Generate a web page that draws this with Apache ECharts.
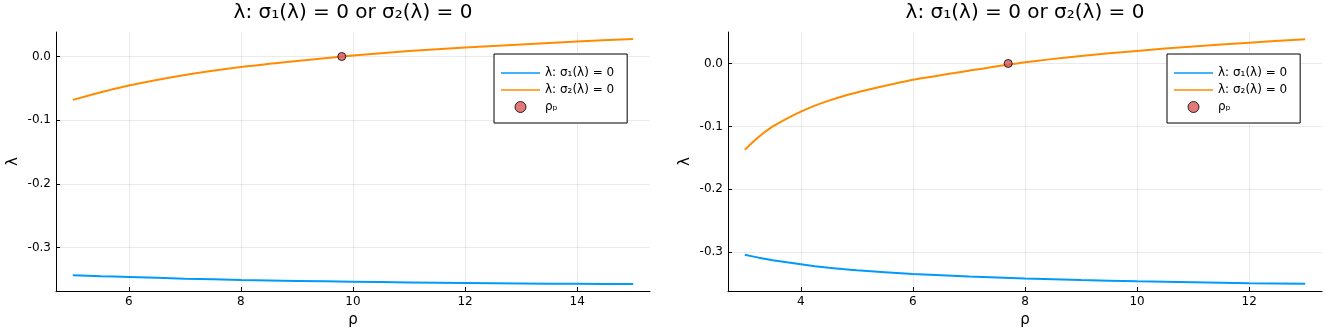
<!DOCTYPE html>
<html>
<head>
<meta charset="utf-8">
<script src="https://cdn.jsdelivr.net/npm/echarts@6/dist/echarts.min.js"></script>
<style>
  html, body { margin: 0; padding: 0; background: #fff; }
  #main { width: 1325px; height: 336px; }
</style>
</head>
<body>
<div id="main"></div>
<script>
// left panel
var rhoL    = [5, 5.5, 6, 7, 8, 9, 10, 11, 12, 13, 14, 15];
var sig1L   = [-0.3432, -0.3447, -0.346, -0.3486, -0.3506, -0.3522, -0.3535, -0.3546, -0.3555, -0.3562, -0.3567, -0.357];
var sig2L   = [-0.068, -0.0562, -0.0455, -0.029, -0.0165, -0.007, 0.0015, 0.0085, 0.014, 0.019, 0.0235, 0.0275];
var rhoPL   = [9.8, 0];
// right panel
var rhoR    = [3, 3.25, 3.5, 3.75, 4, 4.25, 4.5, 4.75, 5, 6, 7, 8, 9, 10, 11, 12, 13];
var sig1R   = [-0.304, -0.3085, -0.3125, -0.316, -0.319, -0.322, -0.3245, -0.3267, -0.3285, -0.3345, -0.3385, -0.3415, -0.344, -0.346, -0.3475, -0.349, -0.35];
var sig2R   = [-0.137, -0.1165, -0.1, -0.0875, -0.0765, -0.067, -0.059, -0.052, -0.046, -0.026, -0.0115, 0.002, 0.012, 0.02, 0.027, 0.033, 0.0385];
var rhoPR   = [7.7, 0];
// ticks and ranges
var xTicksL = [6, 8, 10, 12, 14];
var xTicksR = [4, 6, 8, 10, 12];
var yTicks  = [-0.3, -0.2, -0.1, 0.0];
var xRangeL = [4.7, 15.3];
var xRangeR = [2.7, 13.3];
var yRangeL = [-0.368, 0.0385];
var yRangeR = [-0.3615, 0.05];

var TITLE = 'λ: σ₁(λ) = 0 or σ₂(λ) = 0';
var N1 = 'λ: σ₁(λ) = 0', N2 = 'λ: σ₂(λ) = 0', NP = 'ρₚ';
var FONT = 'DejaVu Sans';

function pairs(xs, ys) {
    var out = [];
    for (var i = 0; i < xs.length; i++) out.push([xs[i], ys[i]]);
    return out;
}

function axis(idx, range, ticks, isX) {
    return {
        type: 'value',
        gridIndex: idx,
        min: range[0],
        max: range[1],
        name: isX ? 'ρ' : 'λ',
        nameLocation: 'middle',
        nameGap: isX ? 22 : 35,
        nameRotate: isX ? 0 : 90,
        nameTextStyle: { fontFamily: FONT, fontSize: 15, color: '#000' },
        axisLine: { show: true, onZero: false, lineStyle: { color: '#000', width: 1 } },
        axisTick: { show: true, inside: true, length: 4, customValues: ticks, lineStyle: { color: '#000' } },
        axisLabel: {
            customValues: ticks,
            margin: 5,
            fontFamily: FONT,
            fontSize: 12,
            color: '#000',
            formatter: function (v) { return isX ? String(v) : v.toFixed(1); }
        },
        splitLine: { show: true, lineStyle: { color: 'rgba(0,0,0,0.08)', width: 1 } }
    };
}

function legendOf(left) {
    return {
        orient: 'vertical',
        left: left,
        top: 54,
        padding: [13, 13, 10, 7],
        itemWidth: 39,
        itemHeight: 11,
        itemGap: 5,
        borderColor: '#000',
        borderWidth: 1,
        backgroundColor: '#fff',
        textStyle: { fontFamily: FONT, fontSize: 12, color: '#000' },
        data: [
            { name: N1, icon: 'path://M0,0H40V1.6H0Z', itemStyle: { borderWidth: 0 } },
            { name: N2, icon: 'path://M0,0H40V1.6H0Z', itemStyle: { borderWidth: 0 } },
            { name: NP, icon: 'circle', itemStyle: { borderWidth: 1, borderColor: '#000' } }
        ]
    };
}

function lineSeries(name, idx, xs, ys, color) {
    return {
        name: name, type: 'line', xAxisIndex: idx, yAxisIndex: idx,
        data: pairs(xs, ys), symbol: 'none', smooth: 0.25,
        lineStyle: { color: color, width: 2 }, itemStyle: { color: color },
        animation: false
    };
}

function pointSeries(idx, p) {
    return {
        name: NP, type: 'scatter', xAxisIndex: idx, yAxisIndex: idx,
        data: [p], symbolSize: 8, z: 5,
        itemStyle: { color: '#D9575A', borderColor: '#000', borderWidth: 1 },
        animation: false
    };
}

var chart = echarts.init(document.getElementById('main'));
chart.setOption({
    backgroundColor: '#fff',
    animation: false,
    title: [
        { text: TITLE, left: 353, top: 3, textAlign: 'center', padding: 0,
          textStyle: { fontFamily: FONT, fontSize: 20, fontWeight: 'normal', color: '#000' } },
        { text: TITLE, left: 1025, top: 3, textAlign: 'center', padding: 0,
          textStyle: { fontFamily: FONT, fontSize: 20, fontWeight: 'normal', color: '#000' } }
    ],
    legend: [legendOf(494), legendOf(1167)],
    grid: [
        { left: 56, top: 32, width: 594, height: 259 },
        { left: 728, top: 32, width: 594, height: 259 }
    ],
    xAxis: [axis(0, xRangeL, xTicksL, true), axis(1, xRangeR, xTicksR, true)],
    yAxis: [axis(0, yRangeL, yTicks, false), axis(1, yRangeR, yTicks, false)],
    series: [
        lineSeries(N1, 0, rhoL, sig1L, '#009AFA'),
        lineSeries(N2, 0, rhoL, sig2L, '#FF8C00'),
        pointSeries(0, rhoPL),
        lineSeries(N1, 1, rhoR, sig1R, '#009AFA'),
        lineSeries(N2, 1, rhoR, sig2R, '#FF8C00'),
        pointSeries(1, rhoPR)
    ]
});
</script>
</body>
</html>
